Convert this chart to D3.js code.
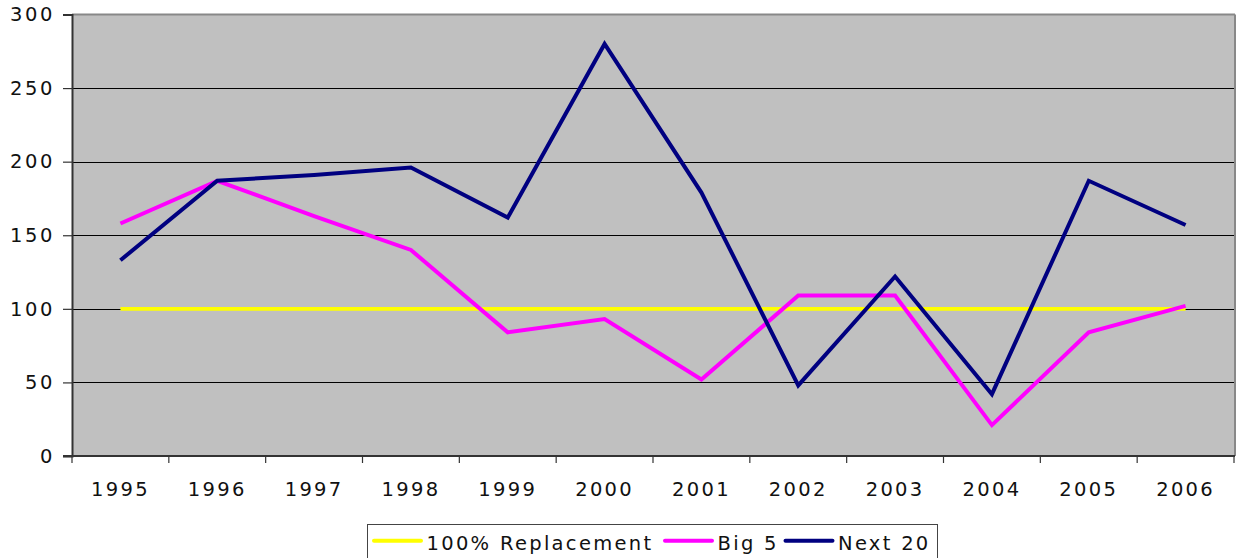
<!DOCTYPE html>
<html><head><meta charset="utf-8">
<script src="https://cdn.jsdelivr.net/npm/d3@7"></script>
<style>
html,body{margin:0;padding:0;background:#fff;}
text{font-family:"DejaVu Sans",Verdana,sans-serif;}
</style></head>
<body><svg id="c" width="1238" height="558"></svg>
<script>
const years = ["1995","1996","1997","1998","1999","2000","2001","2002","2003","2004","2005","2006"];
const replacement = [100,100,100,100,100,100,100,100,100,100,100,100];
const big5 = [158,187,163,140,84,93,52,109,109,21,84,102];
const next20 = [133,187,191,196,162,280,179,48,122,42,187,157];
const yTicks = [0,50,100,150,200,250,300];
const seriesNames = ["100% Replacement","Big 5","Next 20"];
const seriesColors = ["#FFFF00","#FF00FF","#000080"];

const svg = d3.select("#c");
const L = 72, R = 1234, T = 14.5, B = 456;
const x = d3.scaleBand().domain(years).range([L, R]);
const y = d3.scaleLinear().domain([0, 300]).range([B, T]);

// plot background
svg.append("rect").attr("x", L).attr("y", T).attr("width", R - L).attr("height", B - T).attr("fill", "#C0C0C0");

// gridlines
svg.append("g").selectAll("line").data(yTicks.filter(d => d > 0 && d < 300)).join("line")
  .attr("x1", L).attr("x2", R).attr("y1", d => Math.round(y(d)) + 0.5).attr("y2", d => Math.round(y(d)) + 0.5)
  .attr("stroke", "#000").attr("stroke-width", 1);

// border top/right
svg.append("line").attr("x1", L).attr("x2", R + 1).attr("y1", T).attr("y2", T).attr("stroke", "#888").attr("stroke-width", 2);
svg.append("line").attr("x1", R + 1).attr("x2", R + 1).attr("y1", T).attr("y2", B).attr("stroke", "#888").attr("stroke-width", 2);

// y axis
const yAxis = d3.axisLeft(y).tickValues(yTicks).tickSize(9).tickPadding(10);
const gy = svg.append("g").attr("transform", `translate(${L},0)`).call(yAxis);
gy.select(".domain").attr("stroke", "#333").attr("stroke-width", 2);
gy.selectAll(".tick line").attr("stroke", "#333").attr("stroke-width", 1.2);
gy.selectAll(".tick text").attr("font-size", 19.5).attr("fill", "#111").attr("letter-spacing", "2.6px").attr("dx", "2px")
  .attr("font-family", "DejaVu Sans");

// x axis
const xAxis = d3.axisBottom(x).tickSize(0).tickPadding(26);
const gx = svg.append("g").attr("transform", `translate(0,${B})`).call(xAxis);
gx.select(".domain").remove();
gx.selectAll(".tick text").attr("font-size", 19.5).attr("fill", "#111").attr("letter-spacing", "2.3px").attr("dx", "0px")
  .attr("font-family", "DejaVu Sans");
const edges = years.map(d => x(d)).concat([x(years[years.length - 1]) + x.bandwidth()]);
svg.append("g").selectAll("line").data(edges).join("line")
  .attr("x1", d => d).attr("x2", d => d).attr("y1", B).attr("y2", B + 7)
  .attr("stroke", "#333").attr("stroke-width", 1.2);
svg.append("line").attr("x1", L - 9).attr("x2", R + 1).attr("y1", B).attr("y2", B).attr("stroke", "#333").attr("stroke-width", 2);

// lines
const line = d3.line().x((d, i) => x(years[i]) + x.bandwidth() / 2).y(d => y(d));
const data = [replacement, big5, next20];
data.forEach((s, i) => {
  svg.append("path").datum(s).attr("d", line).attr("fill", "none")
    .attr("stroke", seriesColors[i]).attr("stroke-width", i === 0 ? 3.6 : 4)
    .attr("stroke-linejoin", "miter").attr("stroke-linecap", "butt");
});

// legend
const lg = svg.append("g");
lg.append("rect").attr("x", 367.5).attr("y", 524.5).attr("width", 570).attr("height", 40)
  .attr("fill", "#fff").attr("stroke", "#444").attr("stroke-width", 1);
const legendX = [374, 665, 785.5];
const ly = 540.7;
seriesNames.forEach((n, i) => {
  const cx = legendX[i];
  lg.append("line").attr("x1", cx).attr("x2", cx + 47).attr("y1", ly).attr("y2", ly)
    .attr("stroke", seriesColors[i]).attr("stroke-width", 4).attr("stroke-linecap", "round");
  lg.append("text").attr("x", cx + 52.5).attr("y", 550).attr("font-size", 19.5)
    .attr("letter-spacing", "2.3px").attr("fill", "#111").text(n);
});
</script></body></html>
